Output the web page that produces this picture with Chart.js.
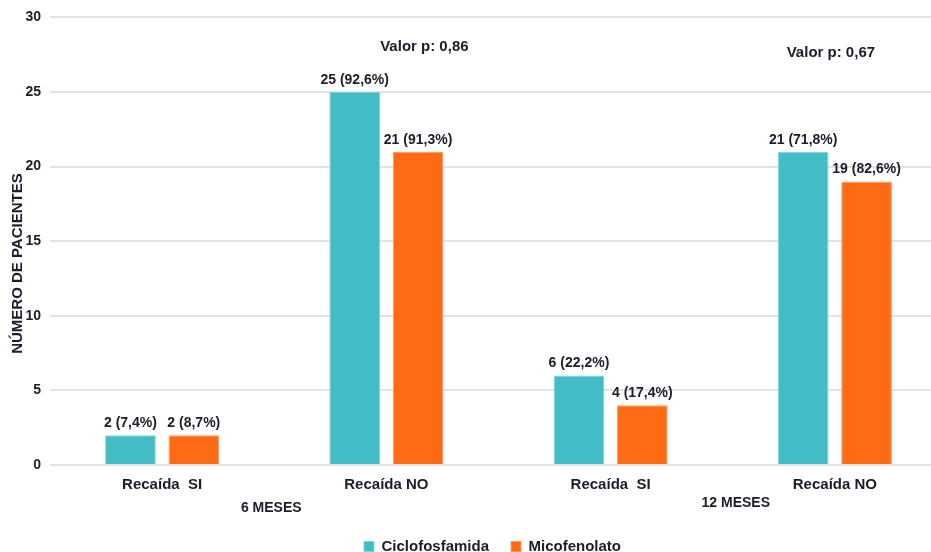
<!DOCTYPE html>
<html>
<head>
<meta charset="utf-8">
<script src="https://cdn.jsdelivr.net/npm/chart.js@4/dist/chart.umd.min.js"></script>
<style>
  html, body { margin: 0; padding: 0; background: #fff; overflow: hidden; }
  #wrap { width: 931px; height: 552px; overflow: hidden; }
</style>
</head>
<body>
<div id="wrap"><canvas id="chart" width="960" height="564"></canvas></div>
<script>
// datos
const categories = ["Recaída  SI", "Recaída NO", "Recaída  SI", "Recaída NO"];
const ciclofosfamida = [2, 25, 6, 21];
const micofenolato = [2, 21, 4, 19];
const pctCiclo = ["7,4%", "92,6%", "22,2%", "71,8%"];
const pctMico = ["8,7%", "91,3%", "17,4%", "82,6%"];
const groupLabels = ["6 MESES", "12 MESES"];
const pValues = ["0,86", "0,67"];
const yTicks = [0, 5, 10, 15, 20, 25, 30];
const yTitle = "NÚMERO DE PACIENTES";

const textColor = "#1c1c2a";
const fontFamily = "'Liberation Sans', Arial, sans-serif";

// etiquetas encima de barras, valor p, meses y título del eje
const extraText = {
  id: "extraText",
  afterLayout(chart) {
    // la leyenda del original está un poco a la derecha
    chart.legend.left += 38;
  },
  afterDatasetsDraw(chart) {
    const ctx = chart.ctx;
    const x = chart.scales.x;
    const y = chart.scales.y;
    ctx.save();
    ctx.fillStyle = textColor;
    ctx.textAlign = "center";
    ctx.textBaseline = "bottom";
    ctx.font = "bold 14px " + fontFamily;
    const pcts = [pctCiclo, pctMico];
    chart.data.datasets.forEach((ds, di) => {
      chart.getDatasetMeta(di).data.forEach((bar, i) => {
        ctx.fillText(ds.data[i] + " (" + pcts[di][i] + ")", bar.x, bar.y - 5);
      });
    });

    ctx.textBaseline = "middle";
    ctx.font = "bold 15px " + fontFamily;
    ctx.fillText("Valor p: " + pValues[0], x.getPixelForValue(1) + 38, y.getPixelForValue(28.0));
    ctx.fillText("Valor p: " + pValues[1], x.getPixelForValue(3) - 4, y.getPixelForValue(27.6));

    ctx.font = "bold 14px " + fontFamily;
    const mid1 = (x.getPixelForValue(0) + x.getPixelForValue(1)) / 2;
    const mid2 = (x.getPixelForValue(2) + x.getPixelForValue(3)) / 2;
    ctx.fillText(groupLabels[0], mid1 - 3, 508);
    ctx.fillText(groupLabels[1], mid2 + 13, 503);

    // título del eje Y
    ctx.translate(18, y.getPixelForValue(13.5));
    ctx.rotate(-Math.PI / 2);
    ctx.font = "bold 15px " + fontFamily;
    ctx.fillText(yTitle, 0, 0);
    ctx.restore();
  }
};

new Chart(document.getElementById("chart"), {
  type: "bar",
  data: {
    labels: categories,
    datasets: [
      {
        label: "Ciclofosfamida",
        data: ciclofosfamida,
        backgroundColor: "#42bdc5",
        borderColor: "#7fd3d8",
        borderWidth: 1,
        categoryPercentage: 0.565,
        barPercentage: 0.8
      },
      {
        label: "Micofenolato",
        data: micofenolato,
        backgroundColor: "#ff6b14",
        borderColor: "#ff9a5c",
        borderWidth: 1,
        categoryPercentage: 0.565,
        barPercentage: 0.8
      }
    ]
  },
  options: {
    responsive: false,
    animation: false,
    layout: { padding: { left: 0, right: 13, top: 16, bottom: 0 } },
    plugins: {
      legend: {
        position: "bottom",
        labels: {
          color: textColor,
          font: { family: fontFamily, size: 15, weight: "bold" },
          boxWidth: 10,
          boxHeight: 10,
          padding: 22
        }
      },
      tooltip: { enabled: false }
    },
    scales: {
      x: {
        grid: { display: false },
        border: { display: false },
        ticks: {
          color: textColor,
          font: { family: fontFamily, size: 15, weight: "bold" },
          padding: 3,
          maxRotation: 0
        },
        afterFit: (scale) => { scale.height = 52; }
      },
      y: {
        min: 0,
        max: 30,
        afterBuildTicks: (scale) => { scale.ticks = yTicks.map(v => ({ value: v })); },
        grid: { color: "#e3e3e3", lineWidth: 2, drawTicks: false },
        border: { display: false },
        ticks: {
          color: textColor,
          font: { family: fontFamily, size: 14, weight: "bold" },
          padding: 9
        },
        afterFit: (scale) => { scale.width = 50; }
      }
    }
  },
  plugins: [extraText]
});
</script>
</body>
</html>
